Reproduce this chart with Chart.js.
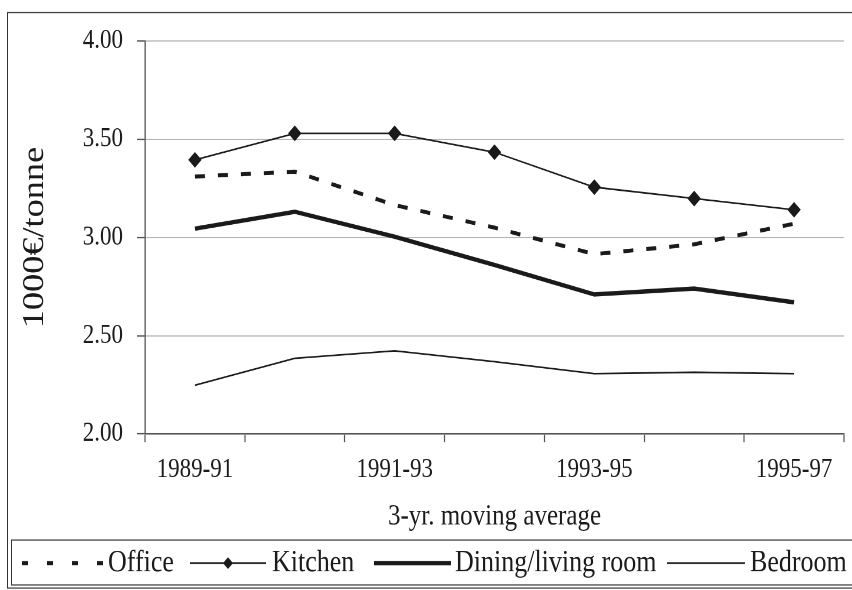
<!DOCTYPE html>
<html>
<head>
<meta charset="utf-8">
<script src="https://cdn.jsdelivr.net/npm/chart.js@4"></script>
<style>
  html, body { margin: 0; background: #fff; height: 590px; }
  /* the reference is a vertically stretched picture, so the canvas is stretched too */
  #grafico { width: 852px !important; height: 590px !important; }
</style>
</head>
<body>
<canvas id="grafico" width="852" height="504"></canvas>
<script>
// Periodos (media movil de 3 años)
const periodos = ["1989-91", "1990-92", "1991-93", "1992-94", "1993-95", "1994-96", "1995-97"];

// Series (1000€/tonne)
const office = [3.31, 3.335, 3.165, 3.05, 2.915, 2.965, 3.07];
const kitchen = [3.395, 3.53, 3.53, 3.434, 3.256, 3.198, 3.141];
const dining = [3.045, 3.131, 3.004, 2.86, 2.71, 2.74, 2.67];
const bedroom = [2.248, 2.385, 2.423, 2.368, 2.307, 2.314, 2.307];

// Eje Y
const yMin = 2, yMax = 4, yStep = 0.5;

const FONT = "'Liberation Serif', 'Times New Roman', serif";
const INK = "#1a1a1a";

// ----------- LEYENDA + MARCOS ----------
const marcos = {
    id: "marcos",
    afterDraw(chart) {
        const ctx = chart.ctx;
        ctx.save();
        ctx.strokeStyle = "#333";
        ctx.lineWidth = 1;
        ctx.strokeRect(7.5, 10.7, 900, 491.6);
        ctx.strokeRect(11.5, 461.3, 900, 38.4);

        const tramos = [[22, 103], [190, 266], [374, 451], [667, 745]];
        const textoX = [108, 272, 455, 750];
        const y = 481;
        chart.data.datasets.forEach((ds, i) => {
            ctx.save();
            ctx.strokeStyle = ds.borderColor;
            ctx.lineWidth = ds.borderWidth;
            ctx.setLineDash(ds.legendDash || []);
            ctx.beginPath();
            ctx.moveTo(tramos[i][0], y);
            ctx.lineTo(tramos[i][1], y);
            ctx.stroke();
            ctx.setLineDash([]);
            if (ds.pointRadius > 0) {
                const cx = (tramos[i][0] + tramos[i][1]) / 2, r = 5;
                ctx.fillStyle = ds.pointBackgroundColor;
                ctx.beginPath();
                ctx.moveTo(cx - r, y);
                ctx.lineTo(cx, y - r);
                ctx.lineTo(cx + r, y);
                ctx.lineTo(cx, y + r);
                ctx.closePath();
                ctx.fill();
            }
            ctx.restore();
            ctx.fillStyle = INK;
            ctx.font = "26px " + FONT;
            ctx.textBaseline = "middle";
            ctx.textAlign = "left";
            ctx.fillText(ds.label, textoX[i], y);
        });
        ctx.restore();
    }
};

new Chart(document.getElementById("grafico"), {
    type: "line",
    data: {
        labels: periodos,
        datasets: [
            {
                label: "Office",
                data: office,
                borderColor: INK,
                borderWidth: 3.4,
                borderDash: [10, 13],
                legendDash: [6, 19],
                pointRadius: 0
            },
            {
                label: "Kitchen",
                data: kitchen,
                borderColor: INK,
                borderWidth: 1.4,
                pointStyle: "rectRot",
                pointRadius: 6,
                pointBackgroundColor: INK,
                pointBorderColor: INK,
                pointBorderWidth: 1
            },
            {
                label: "Dining/living room",
                data: dining,
                borderColor: INK,
                borderWidth: 3.7,
                pointRadius: 0
            },
            {
                label: "Bedroom",
                data: bedroom,
                borderColor: INK,
                borderWidth: 1.4,
                pointRadius: 0
            }
        ]
    },
    options: {
        responsive: false,
        animation: false,
        devicePixelRatio: 2,
        layout: { padding: { top: 35, left: 10, right: 8, bottom: 47.6 } },
        elements: { line: { tension: 0, borderCapStyle: "butt" } },
        plugins: {
            legend: { display: false },
            tooltip: { enabled: false }
        },
        scales: {
            x: {
                offset: true,
                afterFit(scale) { scale.height = 85.7; },
                grid: {
                    offset: true,
                    drawOnChartArea: false,
                    drawTicks: true,
                    tickLength: 7,
                    tickColor: "#555",
                    tickWidth: 1.2
                },
                border: { color: "#555", width: 1.3 },
                ticks: {
                    autoSkip: false,
                    maxRotation: 0,
                    padding: 10,
                    color: INK,
                    font: { family: FONT, size: 23 },
                    callback(val, i) { return i % 2 === 0 ? this.getLabelForValue(val) : ""; }
                },
                title: {
                    display: true,
                    text: "3-yr. moving average",
                    color: INK,
                    font: { family: FONT, size: 25 },
                    padding: { top: 0, bottom: 0 }
                }
            },
            y: {
                min: yMin,
                max: yMax,
                afterFit(scale) { scale.width = 135; },
                grid: {
                    color: "#b5b5b5",
                    lineWidth: 1,
                    drawTicks: true,
                    tickLength: 8,
                    tickColor: "#555",
                    tickWidth: 1.2
                },
                border: { color: "#555", width: 1.3 },
                ticks: {
                    stepSize: yStep,
                    padding: 14,
                    color: INK,
                    font: { family: FONT, size: 23 },
                    callback: v => v.toFixed(2)
                },
                title: {
                    display: true,
                    text: "1000€/tonne",
                    color: INK,
                    font: { family: FONT, size: 31 },
                    padding: { top: 6.4, bottom: 0 }
                }
            }
        }
    },
    plugins: [marcos]
});
</script>
</body>
</html>
